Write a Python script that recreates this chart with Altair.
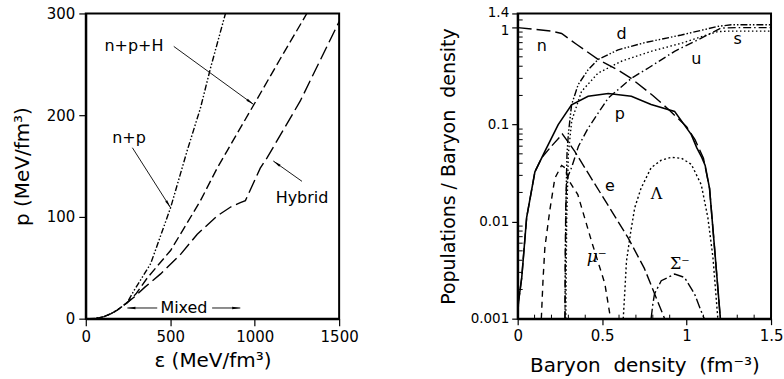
import math
import altair as alt
import pandas as pd

# ---------------- Left panel: pressure vs energy density ----------------
np_eps = [20, 60, 108, 150, 187, 207, 246, 285, 384, 502, 600, 679, 738, 827]
np_p = [0, 0.2, 2, 5, 8.5, 11, 16, 27.5, 54, 109, 165, 207, 246, 300]

nph_eps = [20, 60, 108, 150, 187, 207, 246, 266, 300, 364, 430, 502, 600, 679, 778, 837, 994, 1150, 1309]
nph_p = [0, 0.2, 2, 5, 8.5, 11, 16, 19, 25, 40, 53, 67, 94, 116, 148, 165, 210, 255, 300]

hyb_eps = [20, 60, 108, 150, 187, 207, 240, 285, 350, 443, 560, 660, 778, 860, 915, 945, 1033, 1073, 1270, 1500]
hyb_p = [0, 0.2, 2, 5, 8.5, 11, 15, 21, 31, 44, 63, 83, 101, 110, 114, 116, 148, 158, 214, 292]

left_labels = ["n+p+H", "n+p", "Hybrid", "Mixed"]
left_lab_x = [285, 256, 1280, 581]
left_lab_y = [267.6, 177.7, 119, 10.5]

# arrows: start -> tip
left_arr_x0 = [521, 276, 1280, 423, 748]
left_arr_y0 = [267.6, 168, 135, 10.5, 10.5]
left_arr_x1 = [994, 502, 1110, 246, 915]
left_arr_y1 = [210.5, 109, 155, 10.5, 10.5]

# ---------------- Right panel: populations vs baryon density ----------------
n_x = [0, 0.1, 0.2, 0.26, 0.35, 0.476, 0.6, 0.672, 0.8, 0.9, 1.0, 1.05, 1.1, 1.136, 1.165, 1.2]
n_y = [1.0, 0.96, 0.92, 0.87, 0.67, 0.47, 0.36, 0.30, 0.2, 0.14, 0.095, 0.07, 0.045, 0.022, 0.0055, 0.001]

p_x = [0, 0.005, 0.024, 0.053, 0.102, 0.161, 0.24, 0.319, 0.417, 0.536, 0.673, 0.79, 0.929, 1.028, 1.06, 1.09, 1.11, 1.136, 1.165, 1.2]
p_y = [0.001, 0.0015, 0.00265, 0.011, 0.0326, 0.053, 0.1, 0.16, 0.196, 0.209, 0.196, 0.161, 0.137, 0.079, 0.058, 0.046, 0.038, 0.022, 0.0055, 0.001]

e_x = [0, 0.005, 0.024, 0.053, 0.102, 0.142, 0.2, 0.265, 0.338, 0.42, 0.5, 0.58, 0.654, 0.75, 0.87]
e_y = [0.001, 0.0015, 0.00265, 0.011, 0.0326, 0.0455, 0.06, 0.08, 0.053, 0.031, 0.0185, 0.011, 0.0068, 0.0033, 0.001]

mu_x = [0.14, 0.15, 0.161, 0.19, 0.22, 0.26, 0.28, 0.3, 0.356, 0.437, 0.516, 0.55]
mu_y = [0.001, 0.0025, 0.0054, 0.013, 0.028, 0.038, 0.036, 0.027, 0.019, 0.0063, 0.0023, 0.001]

d_x = [0.28, 0.283, 0.287, 0.292, 0.3, 0.319, 0.358, 0.417, 0.476, 0.595, 0.752, 0.969, 1.1, 1.185, 1.264, 1.5]
d_y = [0.001, 0.005, 0.02, 0.05, 0.08, 0.16, 0.258, 0.368, 0.47, 0.59, 0.7, 0.84, 0.95, 1.03, 1.07, 1.07]

u_x = [0.28, 0.282, 0.285, 0.29, 0.3, 0.319, 0.36, 0.417, 0.536, 0.673, 0.79, 0.929, 1.087, 1.205, 1.3, 1.5]
u_y = [0.001, 0.005, 0.015, 0.025, 0.03, 0.036, 0.06, 0.092, 0.188, 0.3, 0.4, 0.57, 0.78, 0.99, 1.0, 1.0]

s_x = [0.285, 0.29, 0.3, 0.32, 0.378, 0.476, 0.614, 0.79, 0.969, 1.1, 1.185, 1.25, 1.5]
s_y = [0.001, 0.01, 0.05, 0.11, 0.22, 0.34, 0.45, 0.57, 0.69, 0.82, 0.91, 0.92, 0.92]

lam_x = [0.625, 0.635, 0.644, 0.67, 0.693, 0.73, 0.79, 0.85, 0.91, 0.97, 1.028, 1.087, 1.126, 1.156, 1.185]
lam_y = [0.001, 0.002, 0.0039, 0.008, 0.0139, 0.022, 0.036, 0.043, 0.046, 0.045, 0.039, 0.024, 0.011, 0.0043, 0.001]

sig_x = [0.79, 0.8, 0.81, 0.85, 0.929, 0.988, 1.047, 1.097, 1.105]
sig_y = [0.001, 0.0014, 0.0018, 0.00246, 0.00288, 0.00266, 0.0018, 0.00107, 0.001]

right_labels = ["n", "d", "u", "s", "p", "e"]
right_lab_x = [0.143, 0.615, 1.058, 1.303, 0.605, 0.546]
right_lab_y = [0.64, 0.85, 0.47, 0.77, 0.128, 0.0234]

greek_labels = ["Λ", "Σ⁻"]
greek_lab_x = [0.822, 0.96]
greek_lab_y = [0.0192, 0.0037]

mu_label = ["μ⁻"]
mu_lab_x = [0.468]
mu_lab_y = [0.0043]

y_major = [0.001, 0.01, 0.1, 1, 1.4]
y_minor = [k * dec for dec in (0.001, 0.01, 0.1) for k in range(2, 10)] + [1.2]
x_minor = [0.1, 0.2, 0.3, 0.4, 0.6, 0.7, 0.8, 0.9, 1.1, 1.2, 1.3, 1.4]

# ---------------- Styling ----------------
W, H = 254, 306
FONT = "DejaVu Sans"
SERIF = "DejaVu Serif"
LW = 1.4


def series(xs, ys):
    return pd.DataFrame({"x": xs, "y": ys, "o": list(range(len(xs)))})


# ---- left chart ----
lx = alt.Scale(domain=[0, 1500], nice=False, zero=False)
ly = alt.Scale(domain=[0, 300], nice=False, zero=False)

X_L = alt.X("x:Q", scale=lx, axis=alt.Axis(values=[0, 500, 1000, 1500], format="d",
                                           title="ε (MeV/fm³)", titlePadding=6,
                                           labelOverlap=False, labelFlush=False,
                                           tickSize=7, labelPadding=4, labelFontSize=15))
Y_L = alt.Y("y:Q", scale=ly, axis=alt.Axis(values=[0, 100, 200, 300], format="d",
                                           title="p (MeV/fm³)", titlePadding=14,
                                           labelOverlap=False, labelFlush=False,
                                           tickSize=7, labelPadding=4, labelFontSize=15))


def lline(xs, ys, dash):
    kw = dict(color="black", strokeWidth=LW, clip=True)
    if dash:
        kw["strokeDash"] = dash
    return alt.Chart(series(xs, ys)).mark_line(**kw).encode(x=X_L, y=Y_L, order="o:Q")


left_layers = [
    lline(np_eps, np_p, [6, 2, 1.5, 2, 1.5, 2]),
    lline(nph_eps, nph_p, [9, 4]),
    lline(hyb_eps, hyb_p, [14, 5]),
]

# arrows in left panel
pxX_L = W / 1500
pxY_L = H / 300
angles = []
for x0, y0, x1, y1 in zip(left_arr_x0, left_arr_y0, left_arr_x1, left_arr_y1):
    a = math.degrees(math.atan2((x1 - x0) * pxX_L, (y1 - y0) * pxY_L)) % 360
    angles.append(a)
arr_df = pd.DataFrame({"x": left_arr_x0, "y": left_arr_y0, "x2": left_arr_x1, "y2": left_arr_y1,
                       "ang": angles})
arr_lines = alt.Chart(arr_df).mark_rule(color="black", strokeWidth=0.9).encode(
    x=X_L, y=Y_L, x2="x2:Q", y2="y2:Q")
head_shape = "M0,0L0.32,2.2L-0.32,2.2Z"
arr_heads = alt.Chart(arr_df).mark_point(shape=head_shape, filled=True, color="black",
                                         size=55, opacity=1).encode(
    x=alt.X("x2:Q", scale=lx), y=alt.Y("y2:Q", scale=ly),
    angle=alt.Angle("ang:Q", scale=None))
left_text = alt.Chart(pd.DataFrame({"x": left_lab_x, "y": left_lab_y, "t": left_labels})).mark_text(
    font=FONT, fontSize=16, color="black", baseline="middle", align="center").encode(
    x=X_L, y=Y_L, text="t:N")

left = alt.layer(*left_layers, arr_lines, arr_heads, left_text).properties(width=W, height=H)

# ---- right chart ----
rx = alt.Scale(domain=[0, 1.5], nice=False, zero=False)
ry = alt.Scale(type="log", domain=[0.001, 1.4], nice=False)

X_R = alt.X("x:Q", scale=rx, axis=alt.Axis(values=[0, 0.5, 1, 1.5], format="~g",
                                           title="Baryon\u00a0 density\u00a0 (fm⁻³)",
                                           titlePadding=12, labelOverlap=False,
                                           labelFlush=False, tickSize=6, labelPadding=4,
                                           labelFontSize=15))
Y_R = alt.Y("y:Q", scale=ry, axis=alt.Axis(values=y_major, format="~g",
                                           title="Populations / Baryon\u00a0 density",
                                           titlePadding=12, titleFontSize=19,
                                           labelOverlap=False, labelFlush=False,
                                           labelOffset={"expr": "datum.value == 1 ? 2.5 : (datum.value == 1.4 ? -0.5 : 0)"},
                                           tickSize=6, labelPadding=3, labelFontSize=13.5))


def rline(xs, ys, dash, width=LW):
    kw = dict(color="black", strokeWidth=width, clip=True)
    if dash:
        kw["strokeDash"] = dash
    return alt.Chart(series(xs, ys)).mark_line(**kw).encode(x=X_R, y=Y_R, order="o:Q")


right_layers = [
    rline(n_x, n_y, [14, 5]),
    rline(p_x, p_y, None, 1.6),
    rline(e_x, e_y, [11, 4]),
    rline(mu_x, mu_y, [6, 5]),
    rline(d_x, d_y, [7, 2, 1.5, 2, 1.5, 2]),
    rline(u_x, u_y, [8, 3, 1.5, 3]),
    rline(s_x, s_y, [1.5, 2.5]),
    rline(lam_x, lam_y, [2, 2.5]),
    rline(sig_x, sig_y, [10, 3, 2, 3]),
]

minor_y = alt.Chart(pd.DataFrame({"y": y_minor})).mark_rule(color="black", strokeWidth=1).encode(
    y=Y_R, x=alt.value(0), x2=alt.value(5))
minor_x = alt.Chart(pd.DataFrame({"x": x_minor})).mark_rule(color="black", strokeWidth=1).encode(
    x=X_R, y=alt.value(H), y2=alt.value(H - 4))

right_text = alt.Chart(pd.DataFrame({"x": right_lab_x, "y": right_lab_y, "t": right_labels})).mark_text(
    font=FONT, fontSize=16, color="black", baseline="middle", align="center").encode(
    x=X_R, y=Y_R, text="t:N")
greek_text = alt.Chart(pd.DataFrame({"x": greek_lab_x, "y": greek_lab_y, "t": greek_labels})).mark_text(
    font=SERIF, fontSize=16, color="black", baseline="middle", align="center").encode(
    x=X_R, y=Y_R, text="t:N")
mu_text = alt.Chart(pd.DataFrame({"x": mu_lab_x, "y": mu_lab_y, "t": mu_label})).mark_text(
    font=SERIF, fontSize=17, fontStyle="italic", color="black", baseline="middle",
    align="center").encode(x=X_R, y=Y_R, text="t:N")

right = alt.layer(*right_layers, minor_y, minor_x, right_text, greek_text, mu_text).properties(
    width=W, height=H)

chart = alt.hconcat(left, right, spacing=78).properties(
    padding={"left": 11, "top": 4, "right": 0, "bottom": 0}
).configure_view(
    stroke="black", strokeWidth=2
).configure_axis(
    grid=False, domainColor="black", domainWidth=2, tickColor="black",
    tickWidth=1.2, labelFont=FONT, labelColor="black",
    titleFont=FONT, titleFontSize=20, titleFontWeight="normal", titleColor="black"
).configure_concat(spacing=78)

chart.save("out.html", embed_options={"renderer": "svg", "actions": False})
